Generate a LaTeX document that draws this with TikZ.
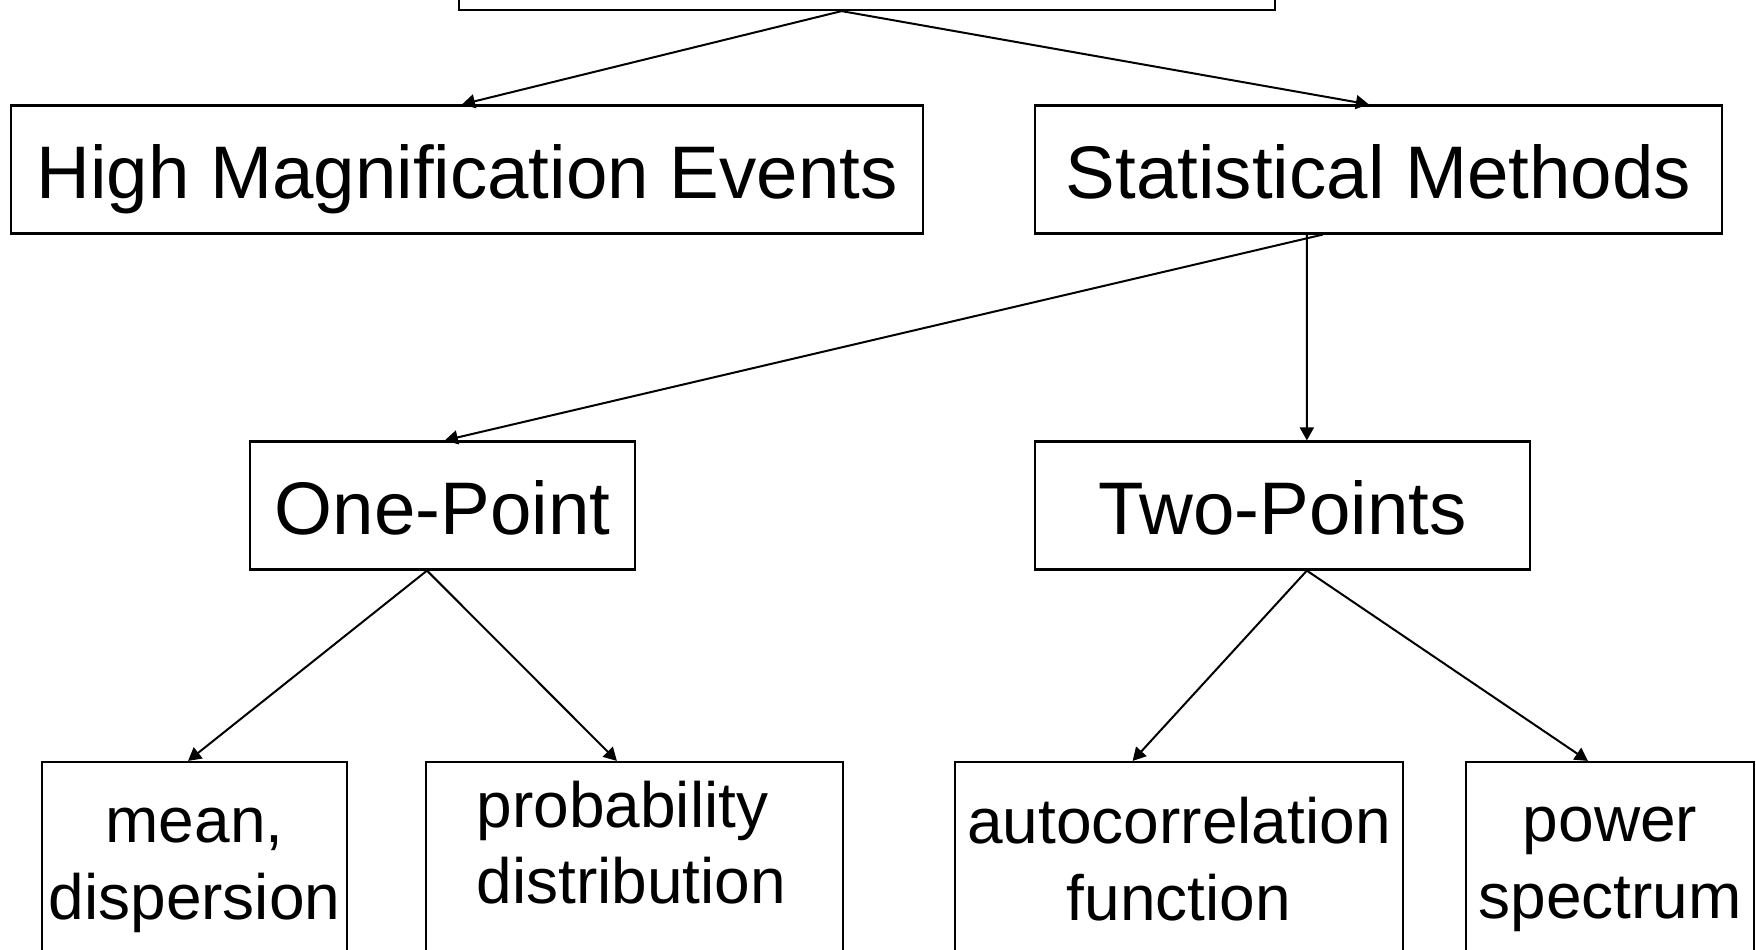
\documentclass[tikz,border=0pt]{standalone}
\usepackage{fontspec}
\setmainfont{Liberation Sans}
\usetikzlibrary{arrows.meta,calc}
\begin{document}
\begin{tikzpicture}[x=1pt,y=-1pt,
  box/.style={draw, line width=2.2pt, inner sep=0pt, minimum height=128pt},
  lowbox/.style={draw, line width=2.2pt, inner sep=0pt, minimum height=238pt},
  bigtext/.style={font=\fontsize{74.5}{89}\selectfont, text height=57pt, text depth=0pt},
  bottext/.style={font=\fontsize{64}{77}\selectfont, inner sep=0pt},
  conn/.style={line width=2pt, -{Triangle[length=13pt,width=14pt]}}]
\useasboundingbox (0,0) rectangle (1756,950);
% boxes
\node[box, minimum width=816pt] (top) at (867,-54) {};
\node[box, bigtext, minimum width=912pt] (hme) at (467,169.5) {High Magnification Events};
\node[box, bigtext, minimum width=687pt] (sm) at (1378.5,169.5) {Statistical Methods};
\node[box, bigtext, minimum width=385pt] (one) at (442.5,505.5) {One-Point};
\node[box, bigtext, minimum width=495pt] (two) at (1282.5,505.5) {Two-Points};
\node[lowbox, minimum width=305pt] (mean) at (194.5,881) {};
\node[lowbox, minimum width=417pt] (prob) at (634.5,881) {};
\node[lowbox, minimum width=448pt] (auto) at (1179,881) {};
\node[lowbox, minimum width=288pt] (pow) at (1610,881) {};
% texts of the lower boxes (base anchor = baseline of the last line)
\node[bottext, anchor=base, align=center] (meanT) at (mean.center |- 0,919) {mean,\\dispersion};
\node[bottext, anchor=base west, align=left, font=\fontsize{64}{76}\selectfont] (probT) at (476.5,903) {probability\\distribution};
\node[bottext, anchor=base, align=center] (autoT) at (auto.center |- 0,920) {autocorrelation\\function};
\node[bottext, anchor=base, align=center] (powT) at (pow.center |- 0,918) {power\\spectrum};
% connectors
\draw[conn] ($(top.south west)!0.469!(top.south east)$) -- ($(hme.north west)!0.4945!(hme.north east)$);
\draw[conn] ($(top.south west)!0.469!(top.south east)$) -- ($(sm.north west)!0.486!(sm.north east)$);
\draw[conn] ($(sm.south west)!0.419!(sm.south east)$) -- ($(one.north west)!0.506!(one.north east)$);
\draw[conn] ($(sm.south west)!0.396!(sm.south east)$) -- ($(two.north west)!0.549!(two.north east)$);
\draw[conn] ($(one.south west)!0.46!(one.south east)$) -- ($(mean.north west)!0.479!(mean.north east)$);
\draw[conn] ($(one.south west)!0.46!(one.south east)$) -- ($(prob.north west)!0.458!(prob.north east)$);
\draw[conn] ($(two.south west)!0.549!(two.south east)$) -- ($(auto.north west)!0.397!(auto.north east)$);
\draw[conn] ($(two.south west)!0.549!(two.south east)$) -- ($(pow.north west)!0.424!(pow.north east)$);
\end{tikzpicture}
\end{document}
